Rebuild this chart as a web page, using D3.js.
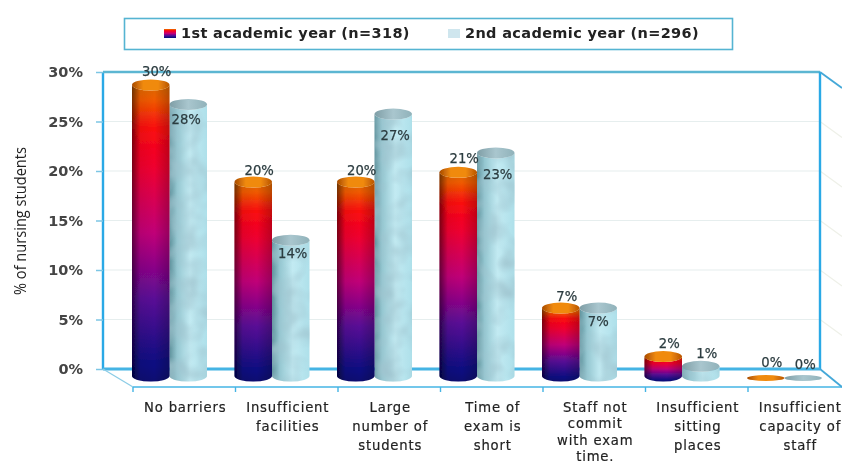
<!DOCTYPE html>
<html><head><meta charset="utf-8">
<script src="https://cdn.jsdelivr.net/npm/d3@7"></script>
<style>html,body{margin:0;padding:0;background:#fff;overflow:hidden}svg{display:block}</style>
</head><body><svg id="c" width="842" height="466"></svg>
<script>
const categories = ["No barriers","Insufficient\nfacilities","Large\nnumber of\nstudents","Time of\nexam is\nshort","Staff not\ncommit\nwith exam\ntime.","Insufficient\nsitting\nplaces","Insufficient\ncapacity of\nstaff"];
const seriesNames = ["1st academic year (n=318)","2nd academic year (n=296)"];
const firstYear = [30,20,20,21,7,2,0];
const secondYear = [28,14,27,23,7,1,0];
const yTicks = [0,5,10,15,20,25,30];
const firstLabelShift = [-14,-12,-12,-14,-12,-14,-14];
const secondLabelShift = [15,13,21,21,13,-13,-12];
const secondLabelSide = [-2,2,2,2,0,6,2];

const svg = d3.select("#c");
const defs = svg.append("defs");
const W = {l:103,r:820,t:72,b:369}, F = {l:133,r:842,y:387};
const wallY = d3.scaleLinear().domain([0,30]).range([W.b,W.t]);
const barY = d3.scaleLinear().domain([0,30]).range([376,85]);
const x = d3.scaleBand().domain(d3.range(categories.length)).range([F.l,F.l+102.5*categories.length]);
const barW = 37.5, RY = 5.5;

function grad(id, stops, dir){
  const g = defs.append("linearGradient").attr("id",id)
    .attr("x1",0).attr("y1",0).attr("x2",dir==="h"?1:0).attr("y2",dir==="h"?0:1);
  stops.forEach(s=>g.append("stop").attr("offset",s[0]).attr("stop-color",s[1]).attr("stop-opacity",s[2]===undefined?1:s[2]));
}
grad("red",[[0,"#d96a00"],[.05,"#f05a00"],[.15,"#fa0a10"],[.28,"#ef0030"],[.5,"#c00078"],[.72,"#5a0a96"],[.95,"#0a0a80"],[1,"#0a0a70"]],"v");
grad("shade",[[0,"#000",.5],[.22,"#000",.06],[.6,"#000",0],[1,"#000",.22]],"h");
grad("capA",[[0,"#a84a00"],[.3,"#f08a10"],[.7,"#f08a10"],[1,"#b85400"]],"h");
grad("blue",[[0,"#5f929c"],[.2,"#94c6d0"],[.55,"#c2eaf2"],[1,"#aee0ea"]],"h");
grad("capB",[[0,"#7f9ea6"],[.5,"#a9c6ce"],[1,"#90b2ba"]],"h");
const tex = defs.append("filter").attr("id","tex").attr("x",0).attr("y",0).attr("width",1).attr("height",1);
tex.append("feTurbulence").attr("type","fractalNoise").attr("baseFrequency",".05").attr("numOctaves",2).attr("seed",4).attr("result","n");
tex.append("feColorMatrix").attr("in","n").attr("type","matrix").attr("values","0 0 0 0 .35  0 0 0 0 .55  0 0 0 0 .62  1.6 0 0 0 -.55").attr("result","m");
tex.append("feComposite").attr("in","m").attr("in2","SourceGraphic").attr("operator","in").attr("result","c");
const mg = tex.append("feMerge"); mg.append("feMergeNode").attr("in","SourceGraphic"); mg.append("feMergeNode").attr("in","c");
defs.append("filter").attr("id","soft").attr("x","-5%").attr("y","-5%").attr("width","110%").attr("height","110%")
  .append("feGaussianBlur").attr("stdDeviation",.6);

const root = svg.append("g").attr("filter","url(#soft)");

// legend
root.append("rect").attr("x",124.5).attr("y",18.5).attr("width",608).attr("height",31).attr("fill","#fff").attr("stroke","#55b4d2").attr("stroke-width",1.6);
const legendX = [164,448];
seriesNames.forEach((n,i)=>{
  root.append("rect").attr("x",legendX[i]).attr("y",29).attr("width",12).attr("height",9).attr("fill",i?"#cfe6ee":"url(#red)");
  root.append("text").attr("x",legendX[i]+17).attr("y",38).attr("font-family","DejaVu Sans").attr("font-weight","bold").attr("font-size",14.5).attr("letter-spacing",.35).attr("fill","#222").text(n);
});

// walls and grid
const grid = root.append("g");
yTicks.filter(t=>t>0&&t<30).forEach(t=>{
  grid.append("line").attr("x1",W.l).attr("x2",W.r).attr("y1",wallY(t)).attr("y2",wallY(t)).attr("stroke","#e6eeee").attr("stroke-width",1.2);
  grid.append("line").attr("x1",W.r).attr("x2",842).attr("y1",wallY(t)).attr("y2",wallY(t)+16).attr("stroke","#eef0e8").attr("stroke-width",1.2);
});
const frame = [[W.l,W.t,W.l,W.b,"#2aa9e6",2.4],[W.l,W.t,W.r,W.t,"#5cb6d2",2.6],[W.r,W.t,W.r,W.b,"#2aa9e6",2.4],[W.l,W.b,W.r,W.b,"#44b4e4",2.8],
  [W.l,W.b,F.l,F.y,"#8ccce6",1.3],[F.l,F.y,F.r,F.y,"#44b4e4",1.6],[W.r,W.b,F.r,F.y,"#44a8d8",1.8],[W.r,W.t,F.r,W.t+16,"#44a8d8",1.8]];
frame.forEach(f=>root.append("line").attr("x1",f[0]).attr("y1",f[1]).attr("x2",f[2]).attr("y2",f[3]).attr("stroke",f[4]).attr("stroke-width",f[5]));

// y axis
const yAxis = root.append("g").attr("transform",`translate(${W.l},0)`)
  .call(d3.axisLeft(wallY).tickValues(yTicks).tickFormat(d=>d+"%").tickSize(7).tickPadding(13));
yAxis.select(".domain").remove();
yAxis.selectAll("line").attr("stroke","#7cc6e4").attr("stroke-width",1.5);
yAxis.selectAll("text").attr("font-family","DejaVu Sans").attr("font-weight","bold").attr("font-size",14.5).attr("fill","#444");

root.append("text").attr("transform","translate(26,221) rotate(-90)").attr("text-anchor","middle")
  .attr("font-family","Open Sans").attr("font-size",16).attr("textLength",148).attr("lengthAdjust","spacingAndGlyphs").attr("fill","#222").text("% of nursing students");

// x axis
const xAxis = root.append("g").attr("transform",`translate(0,${F.y})`)
  .call(d3.axisBottom(x).tickFormat(()=>"").tickSize(0));
xAxis.select(".domain").remove();
xAxis.selectAll("text").remove();
xAxis.selectAll(".tick").each(function(d){
  const g = d3.select(this);
  g.append("line").attr("x1",x.bandwidth()*-.5).attr("x2",x.bandwidth()*-.5).attr("y1",0).attr("y2",5).attr("stroke","#44b4e4").attr("stroke-width",1.4);
  const t = g.append("text").attr("text-anchor","middle").attr("font-family","DejaVu Sans").attr("font-size",13.2).attr("letter-spacing",.85).attr("fill","#222").attr("stroke","#222").attr("stroke-width",.2);
  const lines = categories[d].split("\n");
  const lead = lines.length>3 ? 16.3 : 19;
  lines.forEach((s,i)=>t.append("tspan").attr("x",1).attr("y",25+i*lead).text(s));
});

// cylinders
function body(xl,w,top,base,ry){
  return `M${xl},${top}A${w/2},${ry} 0 0 0 ${xl+w},${top}L${xl+w},${base}A${w/2},${ry} 0 0 1 ${xl},${base}Z`;
}
function cylinders(values,off,second){
  const g = root.append("g");
  values.forEach((v,i)=>{
    const xl = x(i)-1+off, top = barY(v), base = barY(0);
    if(v>0){
      g.append("path").attr("d",body(xl,barW,top,base,RY)).attr("fill",second?"url(#blue)":"url(#red)").attr("filter",second?"url(#tex)":null);
      if(!second) g.append("path").attr("d",body(xl,barW,top,base,RY)).attr("fill","url(#shade)");
    }
    g.append("ellipse").attr("cx",xl+barW/2).attr("cy",v>0?top:base+2).attr("rx",barW/2).attr("ry",v>0?RY:3)
      .attr("fill",second?"url(#capB)":"url(#capA)");
  });
}
cylinders(secondYear,37.5,true);
cylinders(firstYear,0,false);

// data labels
function labels(values,off,shift,side){
  values.forEach((v,i)=>{
    root.append("text").attr("x",x(i)-1+off+barW/2+side(i)).attr("y",barY(v)+shift[i]+5).attr("text-anchor","middle")
      .attr("font-family","DejaVu Sans").attr("font-size",13.2).attr("fill","#2c3c40").attr("stroke","#2c3c40").attr("stroke-width",.25).text(v+"%");
  });
}
labels(firstYear,0,firstLabelShift,()=>6);
labels(secondYear,37.5,secondLabelShift,i=>secondLabelSide[i]);
</script></body></html>
